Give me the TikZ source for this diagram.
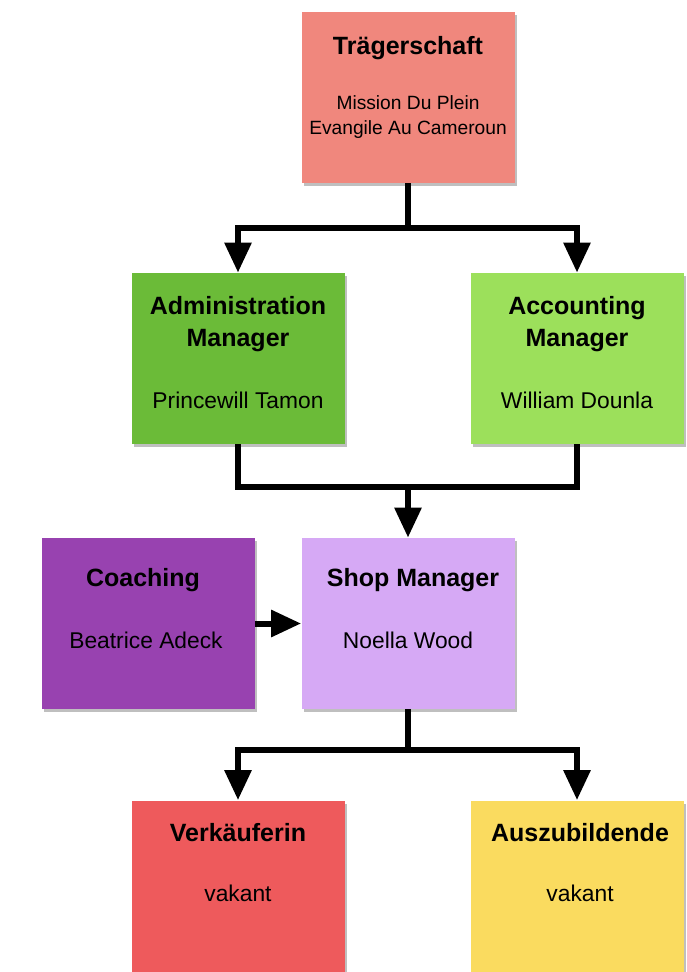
\documentclass[tikz,border=0pt]{standalone}
\usepackage{fontspec}
\setmainfont{Liberation Sans}
\usetikzlibrary{arrows.meta, shadows}

\definecolor{traegerred}{RGB}{240,135,125}
\definecolor{admingreen}{RGB}{107,187,56}
\definecolor{acctgreen}{RGB}{156,224,91}
\definecolor{coachpurple}{RGB}{152,66,176}
\definecolor{shoplilac}{RGB}{214,169,245}
\definecolor{verkred}{RGB}{238,90,92}
\definecolor{azubiyellow}{RGB}{250,219,95}

\begin{document}
\begin{tikzpicture}[x=0.5pt, y=-0.5pt]
\useasboundingbox (0,0) rectangle (686,972);
% box and text styles
\tikzset{unit/.style={draw=none, minimum width=106.5pt, minimum height=85.5pt, inner sep=0pt,
            drop shadow={shadow xshift=1pt, shadow yshift=-1.5pt, opacity=0.25, fill=black}},
         title/.style={font=\fontsize{12.5}{16}\selectfont\bfseries, align=center},
         who/.style={font=\fontsize{11.4}{14}\selectfont, align=center},
         conn/.style={line width=3pt, black},
         arr/.style={conn, -{Triangle[length=15pt, width=13pt]}}}

% ---- boxes
\node[unit, fill=traegerred]  (traeger) at (408,97.5) {};
\node[unit, fill=admingreen]  (admin)   at (238,358.5) {};
\node[unit, fill=acctgreen]   (acct)    at (577,358.5) {};
\node[unit, fill=coachpurple] (coach)   at (148,623.5) {};
\node[unit, fill=shoplilac]   (shop)    at (408,623.5) {};
\node[unit, fill=verkred]     (verk)    at (238,886) {};
\node[unit, fill=azubiyellow] (azubi)   at (577,886) {};

% ---- texts
\node[title] (traeger-t) at (408,48) {Trägerschaft};
\node[who, font=\fontsize{9.6}{12.5}\selectfont] (traeger-w) at (408,117) {Mission Du Plein\\Evangile Au Cameroun};
\node[title] (admin-t) at (238,324) {Administration\\Manager};
\node[who]   (admin-w) at (238,400) {Princewill Tamon};
\node[title] (acct-t) at (577,324) {Accounting\\Manager};
\node[who]   (acct-w) at (577,400) {William Dounla};
\node[title] (coach-t) at (143,580) {Coaching};
\node[who]   (coach-w) at (146,640) {Beatrice Adeck};
\node[title] (shop-t) at (413,580) {Shop Manager};
\node[who]   (shop-w) at (408,640) {Noella Wood};
\node[title] (verk-t) at (238,833) {Verkäuferin};
\node[who]   (verk-w) at (238,893) {vakant};
\node[title] (azubi-t) at (580,833) {Auszubildende};
\node[who]   (azubi-w) at (580,893) {vakant};

% ---- connectors
\coordinate (split1) at (408,228);
\coordinate (merge)  at (408,487);
\coordinate (split2) at (408,750);
\draw[conn] (traeger.south) -- (split1);
\draw[arr] (split1) -| (admin.north);
\draw[arr] (split1) -| (acct.north);
\draw[conn] (admin.south) |- (merge) -| (acct.south);
\draw[arr] (merge) -- (shop.north);
\draw[arr] (coach.east) -- (shop.west);
\draw[conn] (shop.south) -- (split2);
\draw[arr] (split2) -| (verk.north);
\draw[arr] (split2) -| (azubi.north);
\end{tikzpicture}
\end{document}
